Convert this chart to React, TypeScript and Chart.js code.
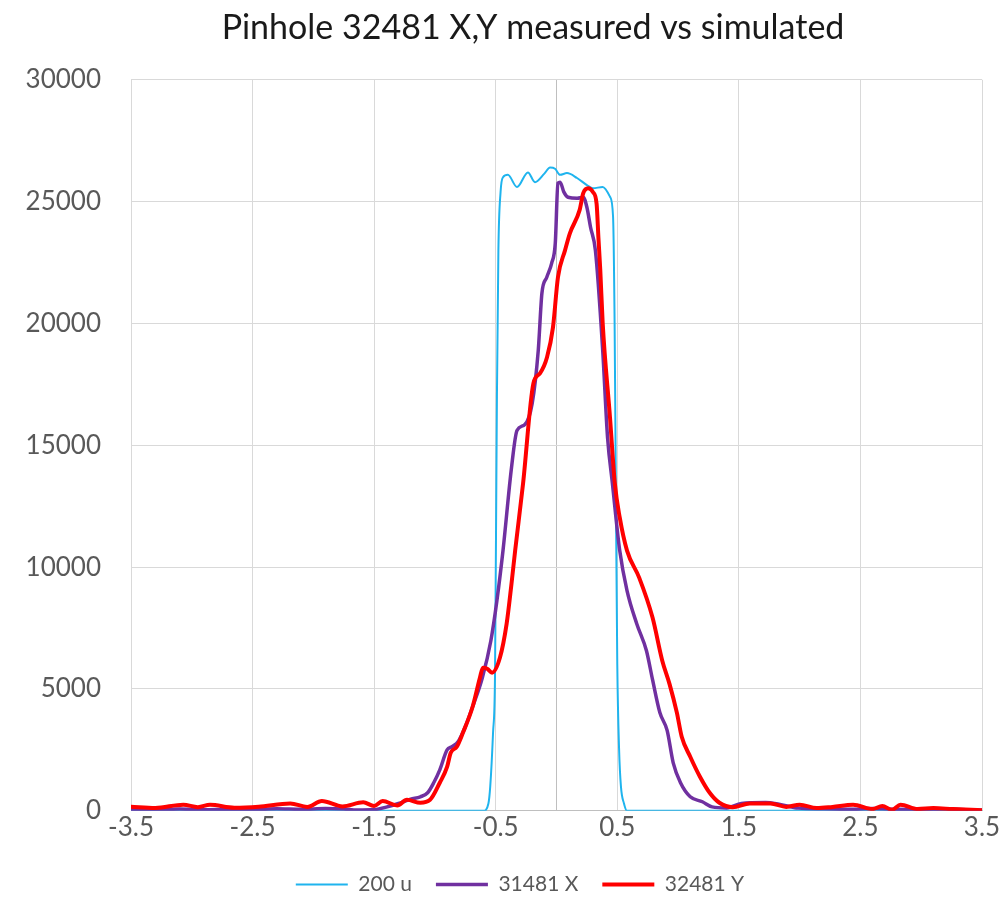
import React, { useEffect, useRef } from 'react';
import { Chart, registerables } from 'chart.js';

Chart.register(...registerables);

const chartTitle = 'Pinhole 32481 X,Y measured vs simulated';
const seriesLabels = ['200 u', '31481 X', '32481 Y'];

// simulated 200 u
const simX = [-3.5, -0.6, -0.56, -0.545, -0.522, -0.506, -0.498, -0.49, -0.478, -0.46, -0.44, -0.4, -0.325, -0.235, -0.177, -0.1, -0.053, -0.012, 0.029, 0.086, 0.169, 0.25, 0.3, 0.38, 0.44, 0.465, 0.478, 0.49, 0.5, 0.515, 0.53, 0.555, 0.58, 3.5];
const simY = [0, 0, 300, 1000, 3200, 5500, 11000, 17000, 23000, 25400, 26000, 26100, 25600, 26200, 25800, 26150, 26400, 26350, 26100, 26170, 25970, 25680, 25550, 25600, 25200, 24400, 20000, 12000, 6000, 2500, 1000, 300, 0, 0];

// measured 31481 X
const measXx = [-3.5, -3.3, -3.1, -2.9, -2.7, -2.5, -2.3, -2.1, -1.9, -1.75, -1.64, -1.5, -1.4, -1.3, -1.2, -1.12, -1.06, -1.01, -0.96, -0.9, -0.86, -0.81, -0.75, -0.69, -0.61, -0.54, -0.49, -0.44, -0.37, -0.325, -0.26, -0.2, -0.15, -0.12, -0.08, -0.04, -0.01, 0.012, 0.03, 0.06, 0.095, 0.17, 0.22, 0.25, 0.28, 0.32, 0.38, 0.42, 0.46, 0.52, 0.58, 0.66, 0.74, 0.79, 0.85, 0.91, 0.96, 1.02, 1.1, 1.2, 1.28, 1.4, 1.52, 1.72, 1.83, 1.99, 2.2, 2.4, 2.6, 2.8, 3.0, 3.2, 3.4, 3.5];
const measXy = [60, 40, 70, 40, 60, 50, 80, 60, 90, 70, 30, 50, 150, 300, 480, 575, 740, 1150, 1680, 2500, 2630, 2830, 3450, 4270, 5460, 6980, 8630, 10680, 14090, 15610, 15850, 16720, 18900, 21240, 21900, 22470, 23300, 25760, 25800, 25400, 25180, 25140, 25180, 24770, 23950, 23000, 18900, 15320, 13430, 10680, 9040, 7680, 6570, 5380, 4030, 3300, 1970, 1150, 575, 370, 160, 120, 300, 340, 270, 110, 80, 60, 90, 60, 50, 70, 40, 30];

// measured 32481 Y
const measYx = [-3.5, -3.3, -3.07, -2.95, -2.85, -2.65, -2.45, -2.19, -2.05, -1.93, -1.76, -1.59, -1.5, -1.43, -1.31, -1.23, -1.12, -1.04, -0.96, -0.9, -0.87, -0.82, -0.77, -0.69, -0.63, -0.605, -0.57, -0.53, -0.465, -0.41, -0.37, -0.34, -0.275, -0.19, -0.136, -0.078, -0.029, 0.012, 0.07, 0.11, 0.19, 0.22, 0.26, 0.3, 0.33, 0.345, 0.36, 0.38, 0.44, 0.48, 0.52, 0.58, 0.68, 0.79, 0.87, 0.93, 0.99, 1.03, 1.1, 1.18, 1.26, 1.34, 1.45, 1.59, 1.76, 1.89, 2.0, 2.14, 2.27, 2.44, 2.6, 2.68, 2.76, 2.83, 2.97, 3.1, 3.26, 3.46, 3.5];
const measYy = [170, 120, 250, 150, 250, 130, 170, 300, 160, 400, 180, 350, 200, 400, 220, 450, 330, 450, 1150, 1800, 2380, 2630, 3200, 4270, 5460, 5870, 5830, 5670, 6290, 7680, 9330, 10680, 13430, 17540, 17950, 18610, 19840, 21900, 23000, 23700, 24650, 25350, 25550, 25390, 24900, 23500, 22200, 20000, 16150, 13430, 12040, 10680, 9570, 7930, 6160, 5200, 4030, 3040, 2220, 1400, 740, 330, 150, 300, 300, 160, 250, 110, 160, 250, 70, 200, 40, 250, 70, 110, 70, 30, 20];

const xTickValues = [-3.5, -2.5, -1.5, -0.5, 0, 0.5, 1.5, 2.5, 3.5];
const yMin = 0;
const yMax = 30000;
const yStep = 5000;

// moves the title and legend blocks sideways to sit where the reference has them
const shiftBlocks = {
  id: 'shiftBlocks',
  afterLayout(chart: any) {
    const t = chart.titleBlock;
    if (t) {
      t.left += 32;
      t.right += 32;
    }
    const l = chart.legend;
    if (l) {
      l.left += 19;
      l.right += 19;
    }
  },
};

export default function App() {
  const ref = useRef<HTMLCanvasElement>(null);

  useEffect(() => {
    if (!ref.current) return;
    Chart.defaults.font.family = 'Lato';
    const toPts = (xs: number[], ys: number[]) => xs.map((x, i) => ({ x, y: ys[i] }));
    const chart = new Chart(ref.current, {
      type: 'line',
      plugins: [shiftBlocks],
      data: {
        datasets: [
          { label: seriesLabels[0], data: toPts(simX, simY), borderColor: '#1FB4EE', backgroundColor: '#1FB4EE', borderWidth: 2, order: 3 },
          { label: seriesLabels[1], data: toPts(measXx, measXy), borderColor: '#7030A0', backgroundColor: '#7030A0', borderWidth: 3.5, order: 2 },
          { label: seriesLabels[2], data: toPts(measYx, measYy), borderColor: '#FF0000', backgroundColor: '#FF0000', borderWidth: 4, order: 1 },
        ],
      },
      options: {
        animation: false,
        responsive: true,
        maintainAspectRatio: false,
        elements: {
          point: { radius: 0, hoverRadius: 0 },
          line: { cubicInterpolationMode: 'monotone', fill: false, borderCapStyle: 'round', borderJoinStyle: 'round' },
        },
        layout: { padding: { left: 20, right: 25, top: 0, bottom: 16 } },
        plugins: {
          title: {
            display: true,
            text: chartTitle,
            color: '#1A1A1A',
            font: { family: 'Lato', size: 34, weight: 'normal' },
            padding: { top: 8, bottom: 31 },
          },
          legend: {
            position: 'bottom',
            labels: {
              usePointStyle: true,
              pointStyle: 'line',
              pointStyleWidth: 52,
              color: '#595959',
              font: { family: 'Lato', size: 21 },
              padding: 24,
              sort: (a: any, b: any) => a.datasetIndex - b.datasetIndex,
            },
          },
          tooltip: { enabled: false },
        },
        scales: {
          x: {
            type: 'linear',
            min: -3.5,
            max: 3.5,
            afterBuildTicks: (s: any) => {
              s.ticks = xTickValues.map((v) => ({ value: v }));
            },
            afterFit: (s: any) => {
              s.paddingLeft = 0;
              s.paddingRight = 0;
              s.height += 6;
            },
            ticks: {
              autoSkip: false,
              maxRotation: 0,
              padding: 1,
              color: '#595959',
              font: { family: 'Lato', size: 26 },
              callback: (v: any) => (Number(v) === 0 ? '' : String(v)),
            },
            grid: {
              drawTicks: false,
              color: (ctx: any) => (ctx.tick && ctx.tick.value === 0 ? '#BFBFBF' : '#D9D9D9'),
              lineWidth: 1,
            },
            border: { color: '#BFBFBF' },
          },
          y: {
            min: yMin,
            max: yMax,
            afterFit: (s: any) => {
              s.width = 111;
            },
            ticks: {
              stepSize: yStep,
              padding: 30,
              color: '#595959',
              font: { family: 'Lato', size: 26 },
              callback: (v: any) => String(v),
            },
            grid: { drawTicks: false, color: '#D9D9D9' },
            border: { color: '#D9D9D9' },
          },
        },
      },
    });
    return () => chart.destroy();
  }, []);

  return (
    <div style={{ position: 'absolute', left: 0, top: 0, width: 1007, height: 921 }}>
      <canvas ref={ref} />
    </div>
  );
}
